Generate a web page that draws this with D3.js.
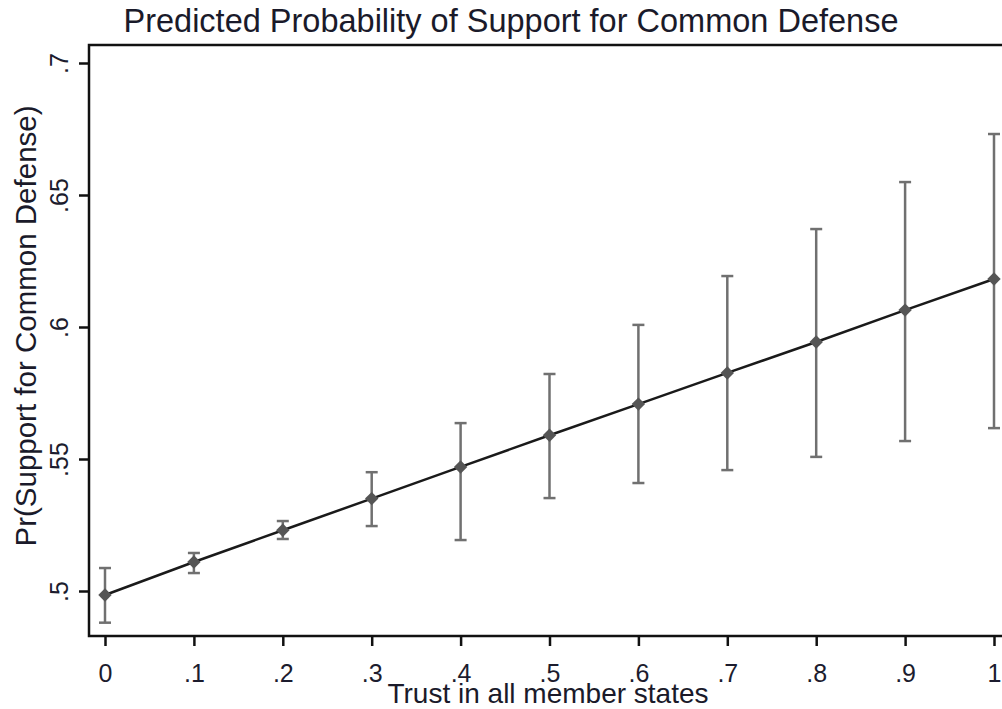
<!DOCTYPE html>
<html>
<head>
<meta charset="utf-8">
<script src="https://cdn.jsdelivr.net/npm/d3@7/dist/d3.min.js"></script>
<style>
  body { margin: 0; background: #fff; }
  svg { display: block; font-family: "Liberation Sans", Arial, sans-serif; }
</style>
</head>
<body>
<div id="chart"></div>
<script>
var trust    = [0, 0.1, 0.2, 0.3, 0.4, 0.5, 0.6, 0.7, 0.8, 0.9, 1],
    prob     = [0.4985, 0.511, 0.523, 0.535, 0.547, 0.559, 0.5708, 0.5826, 0.5943, 0.6064, 0.6182],
    ciLow    = [0.488, 0.5068, 0.5197, 0.5246, 0.5193, 0.5352, 0.5409, 0.5458, 0.5508, 0.5568, 0.5617],
    ciHigh   = [0.5087, 0.5144, 0.5265, 0.545, 0.5636, 0.5822, 0.6008, 0.6193, 0.6371, 0.6549, 0.6731],
    xTicks   = [0, 0.1, 0.2, 0.3, 0.4, 0.5, 0.6, 0.7, 0.8, 0.9, 1],
    xLabels  = ['0', '.1', '.2', '.3', '.4', '.5', '.6', '.7', '.8', '.9', '1'],
    yTicks   = [0.5, 0.55, 0.6, 0.65, 0.7],
    yLabels  = ['.5', '.55', '.6', '.65', '.7'];

var W = 1002, H = 709,
    plotL = 89, plotT = 45, plotB = 636, plotR = 1012;

var svg = d3.select('#chart')
            .append('svg')
            .attr('width', W)
            .attr('height', H);

var x = d3.scaleLinear().domain([0, 1]).range([105, 994]),
    y = d3.scaleLinear().domain([0.5, 0.7]).range([591, 63]);

var data = trust.map(function(t, i) {
  return { x: t, p: prob[i], lo: ciLow[i], hi: ciHigh[i] };
});

// frame
svg.append('rect')
   .attr('x', plotL).attr('y', plotT)
   .attr('width', plotR - plotL).attr('height', plotB - plotT)
   .attr('fill', 'none')
   .attr('stroke', '#111')
   .attr('stroke-width', 2.5);

// axes
var xAxis = d3.axisBottom(x)
              .tickValues(xTicks)
              .tickFormat(function(d, i) { return xLabels[i]; })
              .tickSize(10)
              .tickSizeOuter(0);

var gx = svg.append('g')
            .attr('transform', 'translate(0,' + plotB + ')')
            .call(xAxis);
gx.select('.domain').remove();
gx.selectAll('line').attr('stroke', '#111').attr('stroke-width', 2.5);
gx.selectAll('text')
  .attr('font-size', 25)
  .attr('fill', '#1c1c2e')
  .attr('y', 46)
  .attr('dy', 0);

var yAxis = d3.axisLeft(y)
              .tickValues(yTicks)
              .tickFormat(function(d, i) { return yLabels[i]; })
              .tickSize(10)
              .tickSizeOuter(0);

var gy = svg.append('g')
            .attr('transform', 'translate(' + plotL + ',0)')
            .call(yAxis);
gy.select('.domain').remove();
gy.selectAll('line').attr('stroke', '#111').attr('stroke-width', 2.5);
gy.selectAll('text')
  .attr('font-size', 25)
  .attr('fill', '#1c1c2e')
  .attr('text-anchor', 'middle')
  .attr('x', 0).attr('dy', 0)
  .attr('transform', 'translate(-21,0) rotate(-90)');

// error bars
var eb = svg.append('g').attr('stroke', '#707070').attr('stroke-width', 2.5);
eb.selectAll('.ci')
  .data(data).enter()
  .append('line')
  .attr('x1', function(d) { return x(d.x); })
  .attr('x2', function(d) { return x(d.x); })
  .attr('y1', function(d) { return y(d.lo); })
  .attr('y2', function(d) { return y(d.hi); });
eb.selectAll('.cap-hi')
  .data(data).enter()
  .append('line')
  .attr('x1', function(d) { return x(d.x) - 6; })
  .attr('x2', function(d) { return x(d.x) + 6; })
  .attr('y1', function(d) { return y(d.hi); })
  .attr('y2', function(d) { return y(d.hi); });
eb.selectAll('.cap-lo')
  .data(data).enter()
  .append('line')
  .attr('x1', function(d) { return x(d.x) - 6; })
  .attr('x2', function(d) { return x(d.x) + 6; })
  .attr('y1', function(d) { return y(d.lo); })
  .attr('y2', function(d) { return y(d.lo); });

// prediction line
svg.append('path')
   .datum(data)
   .attr('fill', 'none')
   .attr('stroke', '#1a1a1a')
   .attr('stroke-width', 2.5)
   .attr('d', d3.line().x(function(d) { return x(d.x); }).y(function(d) { return y(d.p); }));

// diamond markers
svg.selectAll('.pt')
   .data(data).enter()
   .append('path')
   .attr('transform', function(d) { return 'translate(' + x(d.x) + ',' + y(d.p) + ') rotate(45)'; })
   .attr('d', d3.symbol().type(d3.symbolSquare).size(90))
   .attr('fill', '#555');

// titles
svg.append('text')
   .attr('x', 511).attr('y', 32)
   .attr('text-anchor', 'middle')
   .attr('font-size', 32.5)
   .attr('fill', '#1a1a2a')
   .text('Predicted Probability of Support for Common Defense');

svg.append('text')
   .attr('x', 548).attr('y', 703)
   .attr('text-anchor', 'middle')
   .attr('font-size', 28)
   .attr('fill', '#1a1a2a')
   .text('Trust in all member states');

svg.append('text')
   .attr('transform', 'translate(36,326) rotate(-90)')
   .attr('text-anchor', 'middle')
   .attr('font-size', 29.5)
   .attr('fill', '#1a1a2a')
   .text('Pr(Support for Common Defense)');
</script>
</body>
</html>
